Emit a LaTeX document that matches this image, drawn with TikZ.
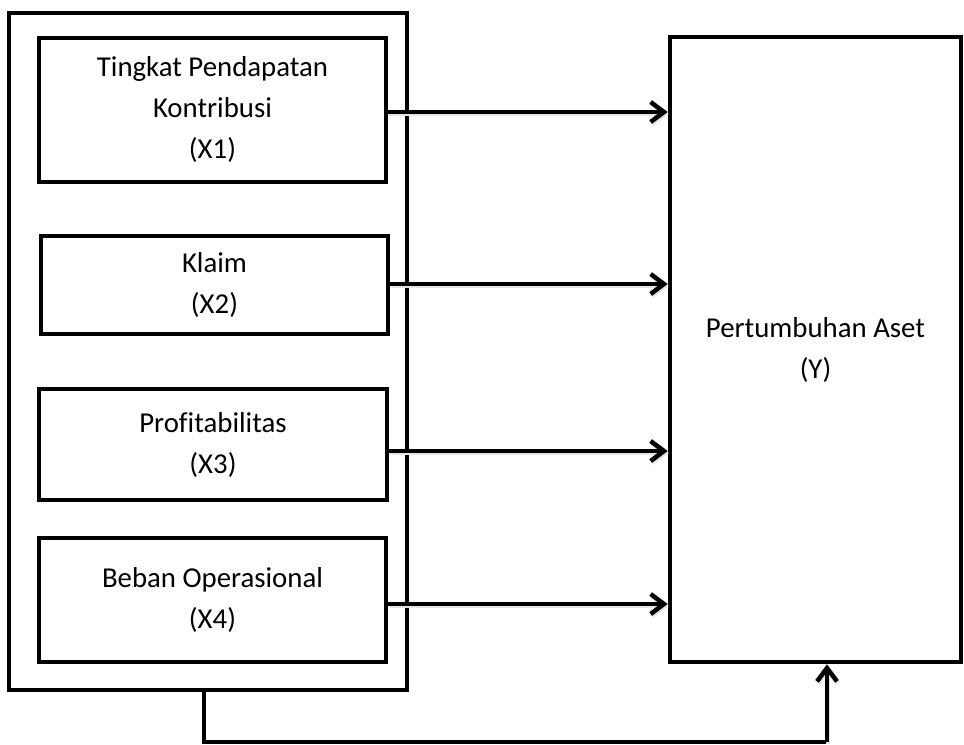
\documentclass[tikz,border=0pt]{standalone}
\usepackage{fontspec}
\setmainfont{Carlito}[Ligatures=NoCommon]
\usetikzlibrary{arrows.meta}
\tikzset{
  lw/.style={line width=3.4pt},
  varbox/.style={draw, lw, rectangle, align=center, inner sep=0pt, anchor=center,
    font=\fontsize{21.6}{30.75}\selectfont},
  frame/.style={draw, lw, rectangle, inner sep=0pt, anchor=center},
  arr/.style={lw, -{Straight Barb[length=10pt,width=15pt]},
    preaction={draw=black!10, lw, transform canvas={shift={(0.8pt,-1.5pt)}}}},
  link/.style={lw, line join=miter}
}
\begin{document}
\begin{tikzpicture}[x=0.75pt,y=-0.75pt]
\useasboundingbox (0,0) rectangle (964,745);
% outer frame
\node[frame, minimum width=298.5pt, minimum height=507.75pt] (outer) at (208,351.5) {};
% variable boxes
\node[varbox, minimum width=260.25pt, minimum height=108pt] (X1) at (212.5,110)
  {Tingkat Pendapatan\\Kontribusi\\(X1)};
\node[varbox, minimum width=260.25pt, minimum height=73.5pt] (X2) at (214.5,285)
  {Klaim\\(X2)};
\node[varbox, minimum width=261pt, minimum height=83.25pt] (X3) at (213,444.5)
  {Profitabilitas\\(X3)};
\node[varbox, minimum width=260.25pt, minimum height=93pt] (X4) at (212.5,600)
  {Beban Operasional\\(X4)};
% dependent variable
\node[varbox, minimum width=218.25pt, minimum height=468.75pt] (Y) at (815.5,349.5)
  {Pertumbuhan Aset\\(Y)};
% arrows
\draw[arr] ([yshift=-1.5pt]X1.east) -- ([yshift=-1.5pt]X1.east -| Y.west);
\draw[arr] ([yshift=0.75pt]X2.east) -- ([yshift=0.75pt]X2.east -| Y.west);
\draw[arr] ([yshift=-4.9pt]X3.east) -- ([yshift=-4.9pt]X3.east -| Y.west);
\draw[arr] ([yshift=-3pt]X4.east) -- ([yshift=-3pt]X4.east -| Y.west);
% bottom connector
\coordinate (b1) at (204,742);
\coordinate (b2) at (827,742);
\draw[link] (outer.south -| b1) -- (b1) -- (b2);
\draw[arr] (b2) -- (b2 |- Y.south);
\end{tikzpicture}
\end{document}
